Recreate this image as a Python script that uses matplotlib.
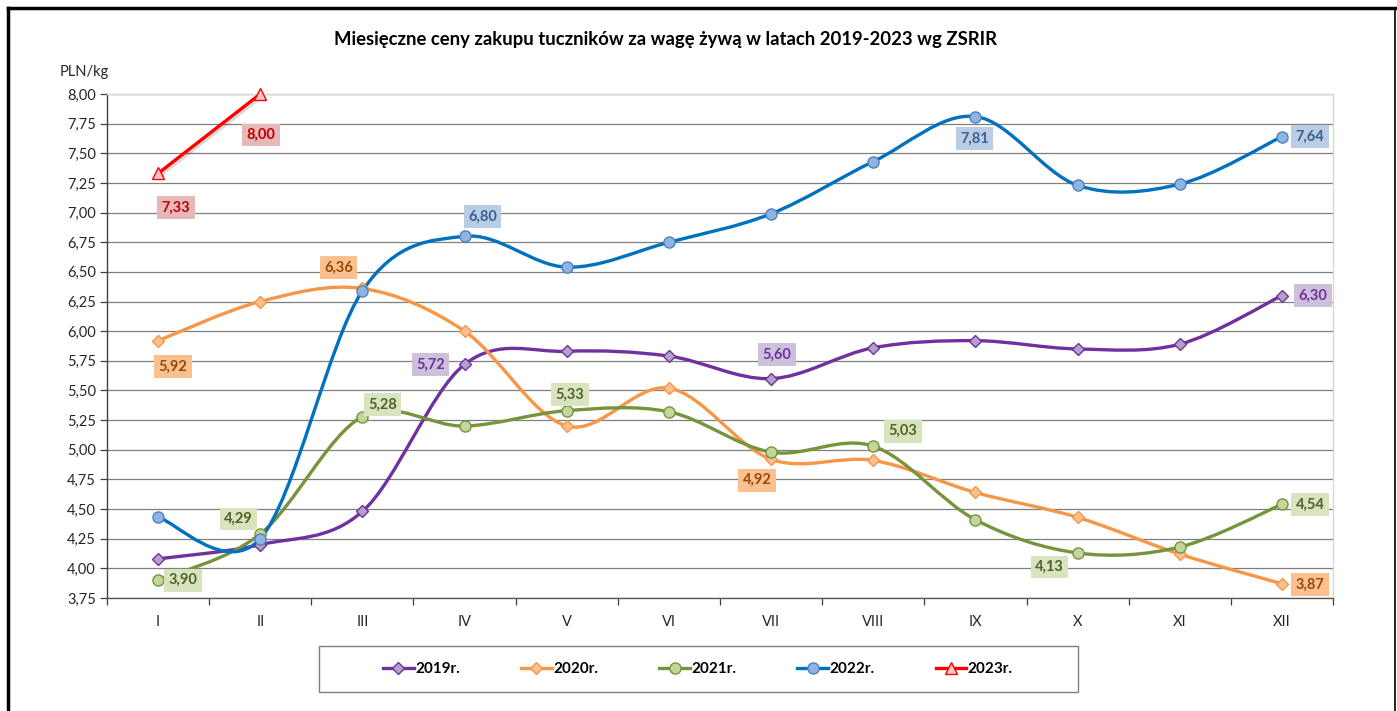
import numpy as np
import matplotlib
matplotlib.use("Agg")
import matplotlib.pyplot as plt
from matplotlib.path import Path
from matplotlib.patches import PathPatch, Rectangle
from matplotlib.lines import Line2D
import matplotlib.patheffects as pe

plt.rcParams['font.family'] = ['Lato', 'DejaVu Sans']

# ---------------- data ----------------
months = ["I", "II", "III", "IV", "V", "VI", "VII", "VIII", "IX", "X", "XI", "XII"]
y2019 = [4.08, 4.20, 4.48, 5.72, 5.83, 5.79, 5.60, 5.86, 5.92, 5.85, 5.89, 6.30]
y2020 = [5.92, 6.25, 6.36, 6.00, 5.20, 5.52, 4.92, 4.91, 4.64, 4.43, 4.12, 3.87]
y2021 = [3.90, 4.29, 5.28, 5.20, 5.33, 5.32, 4.98, 5.03, 4.41, 4.13, 4.18, 4.54]
y2022 = [4.43, 4.25, 6.34, 6.80, 6.54, 6.75, 6.99, 7.43, 7.81, 7.23, 7.24, 7.64]
y2023 = [7.33, 8.00]
series_names = ["2019r.", "2020r.", "2021r.", "2022r.", "2023r."]
yticks = [3.75, 4.00, 4.25, 4.50, 4.75, 5.00, 5.25, 5.50, 5.75, 6.00, 6.25, 6.50, 6.75, 7.00, 7.25, 7.50, 7.75, 8.00]
title = "Miesięczne ceny zakupu tuczników za wagę żywą w latach 2019-2023 wg ZSRIR"
ylabel = "PLN/kg"

# labelled points: series index -> list of (month index, offset dx px, dy px)
label_spec = {
    0: [(3, -34, 0), (6, 6, 24), (11, 31, 0)],
    1: [(0, 15, -26), (2, -24, 21), (6, -14, -21), (11, 28, -1)],
    2: [(0, 25, 0), (1, -22, 15), (2, 20, 12), (4, 3, 16), (7, 30, 15), (9, -28, -14), (11, 28, 0)],
    3: [(3, 18, 20), (8, -1, -22), (11, 28, 0)],
    4: [(0, 18, -34), (1, 1, -41)],
}

# ---------------- style ----------------
line_colors = ["#7030a0", "#f79646", "#77933c", "#0070c0", "#ff0000"]
marker_fill = ["#b3a2c7", "#fac090", "#c3d69b", "#8eb4e3", "#ffc7c7"]
marker_edge = ["#7030a0", "#f79646", "#77933c", "#4f81bd", "#ff0000"]
markers = ["D", "D", "o", "o", "^"]
msizes = [6, 6, 8, 8, 8]
label_bg = ["#ccc0da", "#fac090", "#d7e4bd", "#b9cde5", "#e6b9b8"]
label_fg = ["#7030a0", "#984807", "#4f6228", "#376092", "#c00000"]
smooth = [True, True, True, True, False]

W, H = 1397, 711
fig = plt.figure(figsize=(W / 100, H / 100), dpi=100)
fig.patch.set_facecolor("white")

L, R, T, B = 107, 1333, 94, 598
ax = fig.add_axes([L / W, 1 - B / H, (R - L) / W, (B - T) / H])
ax.set_xlim(-0.5, len(months) - 0.5)
ax.set_ylim(yticks[0], yticks[-1])


def bezier_path(xs, ys):
    pts = np.column_stack([xs, ys]).astype(float)
    n = len(pts)
    verts = [pts[0]]
    codes = [Path.MOVETO]
    for i in range(n - 1):
        p0 = pts[i - 1] if i > 0 else pts[i]
        p1 = pts[i]
        p2 = pts[i + 1]
        p3 = pts[i + 2] if i + 2 < n else pts[i + 1]
        c1 = p1 + (p2 - p0) / 6.0
        c2 = p2 - (p3 - p1) / 6.0
        verts += [c1, c2, p2]
        codes += [Path.CURVE4] * 3
    return Path(verts, codes)


all_series = [y2019, y2020, y2021, y2022, y2023]
shadow = [pe.SimpleLineShadow(offset=(1.5, -1.5), alpha=0.15, shadow_color="black"), pe.Normal()]

for k, ys in enumerate(all_series):
    xs = np.arange(len(ys))
    if smooth[k]:
        patch = PathPatch(bezier_path(xs, ys), facecolor="none", edgecolor=line_colors[k],
                          lw=2.4, zorder=3, capstyle="round", joinstyle="round")
        ax.add_patch(patch)
    else:
        ax.plot(xs, ys, color=line_colors[k], lw=2.4, zorder=3, path_effects=shadow)
    ax.plot(xs, ys, linestyle="none", marker=markers[k], markersize=msizes[k],
            markerfacecolor=marker_fill[k], markeredgecolor=marker_edge[k], markeredgewidth=1.0,
            zorder=4, clip_on=False)

for k, specs in label_spec.items():
    ys = all_series[k]
    for (i, dx, dy) in specs:
        v = ys[i]
        ax.annotate(f"{v:.2f}".replace(".", ","), xy=(i, v), xytext=(dx * 0.72, dy * 0.72),
                    textcoords="offset points", ha="center", va="center",
                    fontsize=10.5, fontweight="bold", color=label_fg[k], zorder=6,
                    bbox=dict(boxstyle="square,pad=0.3", facecolor=label_bg[k], edgecolor="none"))

# grid and axes
ax.set_yticks(yticks)
ax.set_yticklabels([f"{t:.2f}".replace(".", ",") for t in yticks])
ax.yaxis.grid(True, color="#7f7f7f", lw=0.9, zorder=0)
ax.set_axisbelow(True)
ax.set_xticks(np.arange(-0.5, len(months), 1.0))
ax.set_xticklabels([])
ax.set_xticks(np.arange(len(months)), minor=True)
ax.set_xticklabels(months, minor=True)
ax.tick_params(axis="x", which="major", direction="out", length=5, width=0.9, color="#404040")
ax.tick_params(axis="x", which="minor", length=0, pad=12, labelsize=10.5, labelcolor="#262626")
ax.tick_params(axis="y", direction="out", length=5, width=0.9, color="#404040", labelsize=10.5,
               labelcolor="#262626", pad=3)
for s in ["top", "right"]:
    ax.spines[s].set_color("#d9d9d0")
    ax.spines[s].set_linewidth(1.0)
ax.spines["left"].set_color("#404040")
ax.spines["bottom"].set_color("#595959")
ax.spines["left"].set_linewidth(1.0)
ax.spines["bottom"].set_linewidth(1.0)

fig.text(666 / W, 1 - 40 / H, title, ha="center", va="center", fontsize=13.3, fontweight="bold", color="black")
fig.text(84 / W, 1 - 72 / H, ylabel, ha="center", va="center", fontsize=10.5, color="#262626")

# legend
handles = [Line2D([0], [0], color=line_colors[k], lw=2.4, marker=markers[k], markersize=msizes[k],
                  markerfacecolor=marker_fill[k], markeredgecolor=marker_edge[k]) for k in range(5)]
leg = fig.legend(handles, series_names, loc="center", bbox_to_anchor=(698 / W, 1 - 669 / H), ncol=5,
                 frameon=False, prop=dict(size=11, weight="bold"), handlelength=2.0,
                 handletextpad=0.1, columnspacing=4.0)
fig.patches.append(Rectangle((319 / W, 1 - 692 / H), (1078 - 319) / W, 46 / H, transform=fig.transFigure,
                             facecolor="none", edgecolor="#7f7f7f", lw=1.0))

# outer frame
fig.add_artist(Line2D([8 / W, 8 / W], [0, 1 - 8 / H], transform=fig.transFigure, color="black", lw=2.5))
fig.add_artist(Line2D([8 / W, 1395 / W], [1 - 8 / H, 1 - 8 / H], transform=fig.transFigure, color="black", lw=2.5))
fig.add_artist(Line2D([1395 / W, 1395 / W], [0, 1 - 8 / H], transform=fig.transFigure, color="black", lw=1.2))

fig.savefig("out.png", dpi=100, facecolor="white")
